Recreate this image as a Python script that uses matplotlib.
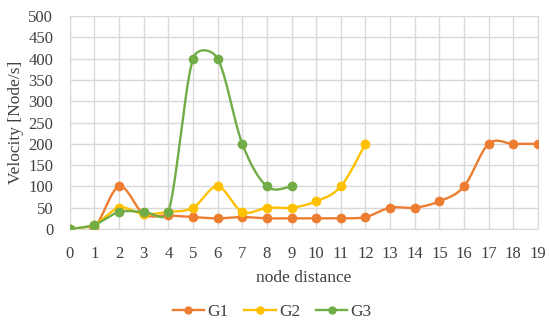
import numpy as np
import matplotlib.pyplot as plt
from matplotlib.lines import Line2D

plt.rcParams['font.family'] = ['Liberation Serif', 'DejaVu Serif']

# data
g1_x = list(range(0, 20))
g1_y = [0, 5, 100, 35, 32, 28, 25, 28, 25, 25, 25, 25, 28, 50, 50, 65, 100, 200, 200, 200]
g2_x = list(range(0, 13))
g2_y = [0, 10, 50, 35, 40, 50, 100, 40, 50, 50, 65, 100, 200]
g3_x = list(range(0, 10))
g3_y = [0, 10, 40, 40, 40, 400, 400, 200, 100, 100]

colors = {"G1": "#ED7D31", "G2": "#FFC000", "G3": "#70AD47"}

# axes box (figure fractions) and pixel scale, used for the smoothing
box = [0.127, 0.304, 0.851, 0.647]
sx_px = 550 * box[2] / 19.0
sy_px = 329 * box[3] / 500.0


def smooth(x, y, n=40):
    # Excel-like smoothed line: bezier with tension 1/6,
    # control handles capped at half the segment length (in pixels)
    p = np.column_stack([np.array(x) * sx_px, np.array(y) * sy_px]).astype(float)
    p = np.vstack([p[0], p, p[-1]])
    out = []
    t = np.linspace(0, 1, n)[:, None]
    for i in range(1, len(p) - 2):
        p0, p1, p2, p3 = p[i - 1], p[i], p[i + 1], p[i + 2]
        d12 = np.linalg.norm(p2 - p1)
        v1 = (p2 - p0) / 6
        v2 = (p3 - p1) / 6
        for v in (v1, v2):
            L = np.linalg.norm(v)
            if L > d12 / 2:
                v *= (d12 / 2) / L
        b1 = p1 + v1
        b2 = p2 - v2
        seg = ((1 - t) ** 3) * p1 + 3 * ((1 - t) ** 2) * t * b1 + 3 * (1 - t) * t ** 2 * b2 + t ** 3 * p2
        out.append(seg)
    out = np.vstack(out)
    return out[:, 0] / sx_px, out[:, 1] / sy_px


fig = plt.figure(figsize=(5.5, 3.29), dpi=100)
ax = fig.add_axes(box)

for name, x, y in [("G1", g1_x, g1_y), ("G2", g2_x, g2_y), ("G3", g3_x, g3_y)]:
    xs, ys = smooth(x, y)
    ax.plot(xs, ys, color=colors[name], lw=1.7, zorder=3)
    ax.plot(x, y, 'o', color=colors[name], ms=6, zorder=4)

ax.set_xlim(0, 19)
ax.set_ylim(0, 500)
ax.set_xticks(range(0, 20))
ax.set_yticks(range(0, 501, 50))
ax.grid(color="#D9D9D9", lw=1)
ax.set_axisbelow(True)
for s in ax.spines.values():
    s.set_color("#D9D9D9")
ax.tick_params(length=0, labelsize=12, colors="#404040")
ax.tick_params(axis='x', pad=12)
ax.tick_params(axis='y', pad=12)
ax.set_xlabel("node distance", fontsize=12.5, color="#404040", labelpad=6)
ax.set_ylabel("Velocity [Node/s]", fontsize=12.5, color="#404040", labelpad=3)

handles = [Line2D([], [], color=colors[k], lw=1.7, marker='o', ms=5) for k in colors]
fig.legend(handles, list(colors), loc="center", bbox_to_anchor=(0.495, 0.052), ncol=3,
           frameon=False, fontsize=12.5, handlelength=1.8, handletextpad=0.2, columnspacing=0.9,
           labelcolor="#404040")

fig.savefig("out.png", dpi=100)
